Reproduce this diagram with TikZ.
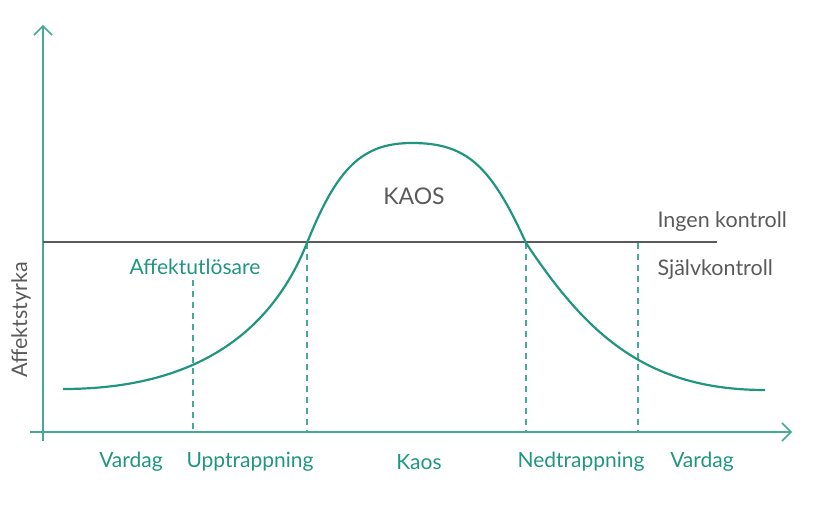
\documentclass[tikz,border=0pt]{standalone}
\usepackage{fontspec}
\setmainfont{Lato}
\usetikzlibrary{arrows, arrows.meta}
\usetikzlibrary{calc}
\definecolor{kurva}{RGB}{32,150,128}
\definecolor{axelf}{RGB}{70,168,150}
\definecolor{gra}{RGB}{90,90,90}

\begin{document}
\begin{tikzpicture}[x=1pt, y=-1pt,
    axel/.style={draw=axelf, line width=1.5pt},
    streck/.style={draw=axelf, line width=1.1pt, dash pattern=on 6pt off 5pt},
    fas/.style={text=kurva, font=\fontsize{21}{24}\selectfont},
    etikett/.style={text=gra, font=\fontsize{21.5}{25}\selectfont}]
  \useasboundingbox (0,0) rectangle (816,508);

  % axes
  \coordinate (xl) at (30,432);
  \coordinate (xr) at (792,432);
  \coordinate (yb) at (43,441);
  \coordinate (yt) at (43,25);
  \draw[axel, -{Straight Barb[length=9pt, width=18pt]}] (xl) -- (xr);
  \draw[axel, -{Straight Barb[length=9pt, width=18pt]}] (yb) -- (yt);

  % control line
  \coordinate (k1) at (43,242);
  \coordinate (k2) at (717,242);
  \draw[gra, line width=1.3pt] (k1) -- (k2);

  % phase borders
  \coordinate (d1) at (193,280);  \coordinate (b1) at (193,432);
  \coordinate (d2) at (307,243);  \coordinate (b2) at (307,432);
  \coordinate (d3) at (526,243);  \coordinate (b3) at (526,432);
  \coordinate (d4) at (638,243);  \coordinate (b4) at (638,432);
  \draw[streck] (d1) -- (b1);
  \draw[streck] (d2) -- (b2);
  \draw[streck] (d3) -- (b3);
  \draw[streck] (d4) -- (b4);

  % curve
  \coordinate (start) at (63,389);
  \coordinate (topp) at (412,143);
  \coordinate (slut) at (765,390);
  \draw[kurva, line width=2.2pt]
    (start) .. controls (183,389) and (267,343) .. (d2)
            .. controls (337,168) and (362,143) .. (topp)
            .. controls (467,143) and (491,166) .. (d3)
            .. controls (586,333) and (645,390) .. (slut);

  % labels
  \node[etikett, rotate=90] (styrka) at (21,320) {Affektstyrka};
  \node[etikett, font=\fontsize{23}{26}\selectfont] (kaos) at (414,196) {KAOS};
  \node[etikett, anchor=west] (ingen) at (654,222) {Ingen kontroll};
  \node[etikett, anchor=west] (sjalv) at (654,270) {Självkontroll};
  \node[fas] (utlos) at (195,267) {Affektutlösare};

  \node[fas] (f1) at (131,462) {Vardag};
  \node[fas] (f2) at (250,462) {Upptrappning};
  \node[fas] (f3) at (419,462) {Kaos};
  \node[fas] (f4) at (581,462) {Nedtrappning};
  \node[fas] (f5) at (702,462) {Vardag};
\end{tikzpicture}
\end{document}
